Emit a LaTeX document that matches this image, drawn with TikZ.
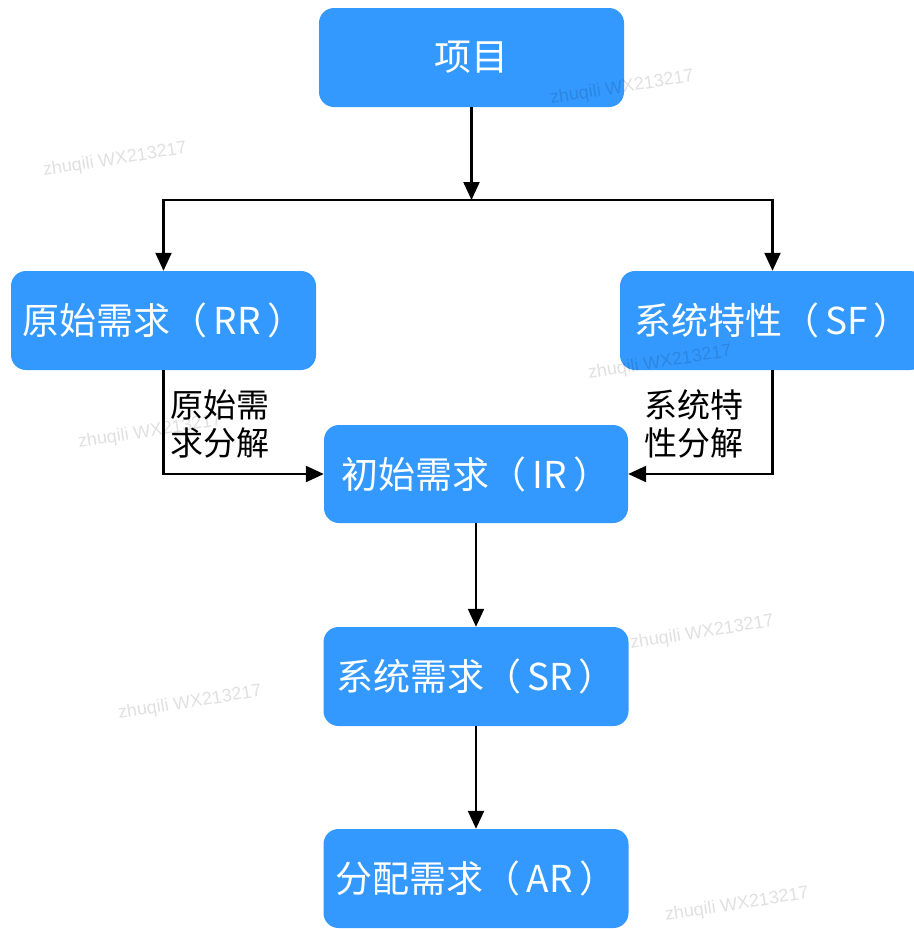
\documentclass[tikz,border=0pt]{standalone}
\usepackage{fontspec}
\setmainfont{Noto Sans CJK SC}
\newfontfamily\wmfont{Liberation Sans}
\usetikzlibrary{arrows.meta}
\definecolor{boxblue}{RGB}{51,153,255}
\tikzset{
  blk/.style={draw=none, fill=boxblue, rounded corners=15pt, text=white,
    font=\fontsize{37}{42}\selectfont, minimum width=305pt, minimum height=99pt,
    inner sep=0pt, anchor=center},
  conn/.style={line width=2.2pt, -{Triangle[length=18pt,width=16pt]}},
  lbl/.style={font=\fontsize{33}{38}\selectfont, align=left, anchor=west, inner sep=0pt, text=black},
  wm/.style={font=\wmfont\fontsize{18}{20}\selectfont, text=black, text opacity=0.12, rotate=9, inner sep=0pt}
}
\begin{document}
\begin{tikzpicture}[x=1pt,y=-1pt]
\useasboundingbox (0,0) rectangle (913,929);
\fill[white] (0,0) rectangle (913,929);
\node[blk] (xm) at (471.5,57.5) {项目};
\node[blk] (rr) at (163.5,320.5) {原始需求（\,RR\,）};
\node[blk] (sf) at (772.5,320.5) {系统特性（\,SF\,）};
\node[blk, minimum width=304pt, minimum height=98pt] (ir) at (476,474) {初始需求（\,IR\,）};
\node[blk] (sr) at (476,676.5) {系统需求（\,SR\,）};
\node[blk] (ar) at (476,878.5) {分配需求（\,AR\,）};
\coordinate (j) at (471.5,200);
\draw[conn] (xm.south) -- (j);
\draw[conn] (j) -| (rr.north);
\draw[conn] (j) -| (sf.north);
\draw[conn] (rr.south) |- (ir.west);
\draw[conn] (sf.south) |- (ir.east);
\draw[conn] (ir.south) -- (sr.north);
\draw[conn] (sr.south) -- (ar.north);
\node[lbl] (l1) at (170,424) {原始需\\求分解};
\node[lbl] (l2) at (644,424) {系统特\\性分解};
\node[wm] (w1) at (115,160) {zhuqili WX213217};
\node[wm] (w2) at (622,88) {zhuqili WX213217};
\node[wm] (w3) at (660,363) {zhuqili WX213217};
\node[wm] (w4) at (150,432) {zhuqili WX213217};
\node[wm] (w5) at (702,633) {zhuqili WX213217};
\node[wm] (w6) at (190,703) {zhuqili WX213217};
\node[wm] (w7) at (737,905) {zhuqili WX213217};
\end{tikzpicture}
\end{document}
